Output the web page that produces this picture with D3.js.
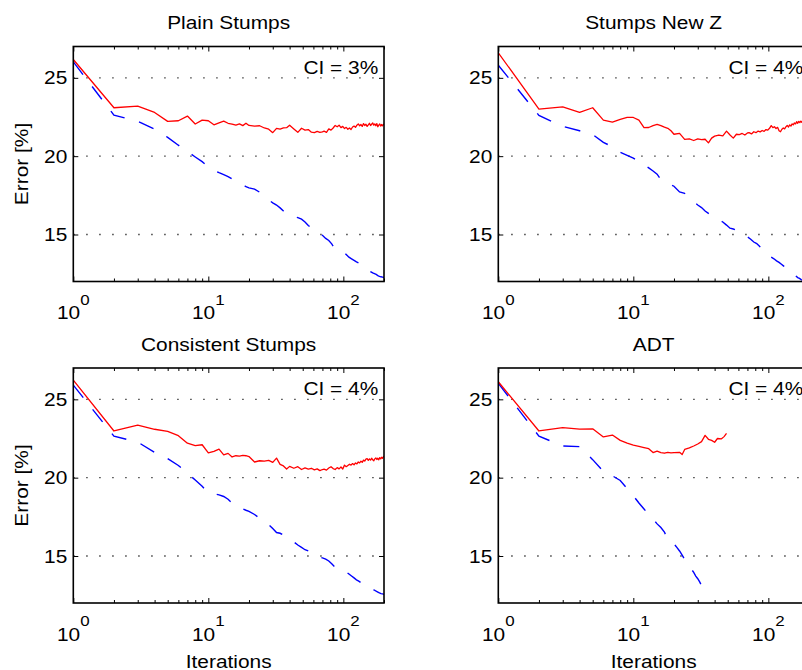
<!DOCTYPE html>
<html>
<head>
<meta charset="utf-8">
<script src="https://cdn.jsdelivr.net/npm/d3@7"></script>
<style>
  html, body { margin: 0; padding: 0; background: #fff; }
  svg { display: block; }
</style>
</head>
<body>
<svg id="chart" width="802" height="670"></svg>
<script>
// ---- data -------------------------------------------------------------
const panelTitles = ["Plain Stumps", "Stumps New Z", "Consistent Stumps", "ADT"];
const ciLabels = ["CI = 3%", "CI = 4%", "CI = 4%", "CI = 4%"];
const yTicks = [15, 20, 25];
const xTickExponents = [0, 1, 2];

// iterations at which the training error was recorded
const iterations = [
  1, 2, 3, 4, 5, 6, 7, 8, 9, 10,
  11, 12, 13, 14, 15, 16, 17, 18, 19, 20,
  22, 24, 26, 28, 30, 32, 34, 36, 38, 40,
  43, 46, 49, 52, 55, 58, 61, 64, 67, 70,
  74, 78, 82, 86, 90, 95, 100, 105, 110, 115,
  120, 125, 130, 135, 140, 145, 150, 155, 160, 165,
  170, 175, 180, 185, 190, 195, 200
];

// iterations at which the test error was recorded
const testIterations = [
  1, 2, 3, 4, 5, 6, 7, 8, 9, 10,
  11, 12, 13, 14, 15, 16, 17, 18, 19, 20,
  22, 24, 26, 28, 30, 32, 34, 36, 38, 40,
  43, 46, 49, 52, 55, 58, 61, 64, 67, 70,
  72, 75, 78, 81, 84, 87, 90, 93, 96, 99,
  102, 105, 108, 111, 114, 117, 120, 123, 126, 129,
  132, 135, 138, 141, 144, 147, 150, 153, 156, 159,
  162, 165, 168, 171, 174, 177, 180, 183, 186, 189,
  192, 195, 198, 200
];

const plainTest = [
  26.17, 23.09, 23.19, 22.79, 22.22, 22.26, 22.56, 22.05, 22.30, 22.26,
  22.00, 22.13, 22.24, 22.10, 22.05, 21.98, 22.06, 21.95, 22.10, 21.96,
  21.92, 21.94, 21.80, 21.72, 21.50, 21.77, 21.72, 21.80, 21.82, 21.98,
  21.74, 21.52, 21.78, 21.66, 21.70, 21.53, 21.50, 21.58, 21.52, 21.55,
  21.60, 21.52, 21.74, 21.66, 21.80, 21.96, 21.88, 21.98, 21.82, 21.90,
  21.76, 21.84, 21.72, 21.80, 21.70, 21.86, 21.92, 21.84, 21.98, 22.06,
  21.94, 22.02, 21.90, 22.08, 21.96, 22.04, 21.90, 22.00, 22.10, 21.96,
  22.04, 22.12, 21.98, 22.06, 21.94, 22.08, 21.88, 21.98, 22.06, 21.92,
  22.02, 21.94, 22.04, 21.98
];
const plainTrain = [
  26.02, 22.62, 22.23, 21.72, 21.20, 20.70, 20.30, 19.95, 19.65, 19.32,
  19.10, 18.95, 18.82, 18.70, 18.55, 18.42, 18.30, 18.18, 18.05, 17.98,
  17.90, 17.70, 17.45, 17.20, 17.02, 16.88, 16.70, 16.50, 16.30, 16.22,
  16.15, 16.08, 15.98, 15.80, 15.58, 15.40, 15.28, 15.12, 15.02, 14.95,
  14.75, 14.62, 14.40, 14.12, 14.05, 13.98, 13.90, 13.72, 13.55, 13.45,
  13.35, 13.25, 13.18, 13.10, 12.95, 12.80, 12.72, 12.68, 12.62, 12.55,
  12.50, 12.45, 12.38, 12.33, 12.30, 12.28, 12.25
];

const newZTest = [
  26.60, 23.00, 23.15, 22.79, 23.09, 22.30, 22.18, 22.35, 22.48, 22.47,
  22.30, 21.82, 21.83, 21.95, 22.03, 21.95, 21.85, 21.78, 21.62, 21.40,
  21.45, 21.07, 21.10, 21.00, 21.10, 21.05, 21.08, 20.85, 21.15, 21.28,
  21.35, 21.30, 21.60, 21.35, 21.15, 21.40, 21.38, 21.45, 21.35, 21.48,
  21.50, 21.42, 21.56, 21.50, 21.60, 21.55, 21.64, 21.58, 21.70, 21.66,
  21.78, 21.95, 21.82, 21.88, 21.76, 21.84, 21.62, 21.56, 21.72, 21.80,
  21.74, 21.88, 21.96, 21.86, 22.00, 21.92, 22.06, 22.00, 22.12, 22.06,
  22.20, 22.10, 22.22, 22.14, 22.24, 22.16, 22.26, 22.18, 22.28, 22.22,
  22.30, 22.24, 22.32, 22.28
];
const newZTrain = [
  25.81, 22.60, 21.90, 21.62, 21.38, 20.88, 20.60, 20.25, 20.05, 19.88,
  19.66, 19.45, 19.25, 19.05, 18.85, 18.50, 18.40, 18.30, 18.18, 18.08,
  17.72, 17.62, 17.40, 17.10, 16.88, 16.72, 16.50, 16.35, 16.20, 16.10,
  15.95, 15.80, 15.60, 15.40, 15.35, 15.28, 15.15, 15.05, 14.95, 14.85,
  14.70, 14.52, 14.42, 14.25, 14.05, 13.90, 13.75, 13.55, 13.45, 13.32,
  13.22, 13.10, 12.98, 12.85, 12.72, 12.62, 12.52, 12.45, 12.35, 12.25,
  12.20, 12.12, 12.08, 12.05, 12.02, 12.00, 11.98
];

const consistentTest = [
  26.23, 22.98, 23.36, 23.09, 22.95, 22.68, 22.20, 22.05, 22.10, 21.58,
  21.68, 21.82, 21.45, 21.55, 21.32, 21.40, 21.38, 21.42, 21.40, 21.35,
  21.00, 21.08, 21.05, 21.10, 20.98, 21.25, 20.85, 20.75, 20.55, 20.72,
  20.60, 20.70, 20.52, 20.62, 20.55, 20.60, 20.50, 20.56, 20.45, 20.52,
  20.55, 20.48, 20.62, 20.70, 20.58, 20.52, 20.64, 20.56, 20.68, 20.55,
  20.80, 20.70, 20.78, 20.86, 20.80, 20.90, 20.82, 20.94, 20.88, 21.00,
  20.94, 21.05, 20.98, 21.12, 21.06, 21.18, 21.22, 21.10, 21.20, 21.12,
  21.24, 21.14, 21.08, 21.20, 21.26, 21.16, 21.24, 21.14, 21.28, 21.20,
  21.30, 21.24, 21.32, 21.38
];
const consistentTrain = [
  25.91, 22.65, 22.27, 21.62, 21.22, 20.78, 20.28, 19.85, 19.45, 19.02,
  18.98, 18.90, 18.80, 18.62, 18.38, 18.18, 18.10, 18.00, 17.92, 17.85,
  17.65, 17.40, 17.20, 17.00, 16.75, 16.50, 16.45, 16.33, 16.25, 16.10,
  15.90, 15.70, 15.55, 15.40, 15.32, 15.15, 15.05, 14.95, 14.92, 14.88,
  14.80, 14.68, 14.50, 14.32, 14.18, 14.14, 14.05, 13.98, 13.85, 13.72,
  13.60, 13.48, 13.40, 13.30, 13.22, 13.16, 13.10, 13.00, 12.92, 12.85,
  12.82, 12.75, 12.70, 12.64, 12.60, 12.58, 12.55
];

const adtTestIterations = [
  1, 2, 3, 4, 5, 6, 7, 8, 9, 10,
  11, 12, 13, 14, 15, 16, 17, 18, 19, 20,
  22, 23, 24, 26, 28, 30, 32, 34, 36, 38,
  40, 42, 45, 47, 49
];
const adtTest = [
  26.12, 22.98, 23.19, 23.10, 23.12, 22.60, 22.72, 22.38, 22.20, 22.08,
  22.00, 21.92, 21.85, 21.60, 21.70, 21.60, 21.56, 21.62, 21.58, 21.60,
  21.62, 21.48, 21.80, 21.90, 22.02, 22.15, 22.30, 22.70, 22.45, 22.38,
  22.26, 22.50, 22.48, 22.62, 22.83
];
const adtTrainIterations = [
  1, 2, 3, 4, 5, 6, 7, 8, 9, 10,
  11, 12, 13, 14, 15, 16, 17, 18, 19, 20,
  21, 22, 23, 24, 25, 26, 27, 28, 29, 30,
  31, 32, 33
];
const adtTrain = [
  26.02, 22.65, 22.02, 21.98, 21.15, 20.40, 20.12, 19.82, 19.30, 18.85,
  18.38, 18.00, 17.65, 17.35, 17.05, 16.82, 16.52, 16.05, 15.95, 15.78,
  15.55, 15.32, 15.05, 14.78, 14.52, 14.35, 14.15, 13.95, 13.72, 13.55,
  13.35, 13.12, 12.94
];

// ---- layout -----------------------------------------------------------
const W = 310.7, H = 235;
const colLeft = [73.3, 498.3];
const rowTop = [46.5, 368];
const FONT = "'Liberation Sans', Arial, Helvetica, sans-serif";
const FS = 18.5;       // main text size
const SX = 1.13;       // horizontal glyph widening of the Helvetica-style face

const panels = [
  { title: panelTitles[0], ci: ciLabels[0], col: 0, row: 0,
    train: d3.zip(iterations, plainTrain), test: d3.zip(testIterations, plainTest) },
  { title: panelTitles[1], ci: ciLabels[1], col: 1, row: 0,
    train: d3.zip(iterations, newZTrain), test: d3.zip(testIterations, newZTest) },
  { title: panelTitles[2], ci: ciLabels[2], col: 0, row: 1,
    train: d3.zip(iterations, consistentTrain), test: d3.zip(testIterations, consistentTest) },
  { title: panelTitles[3], ci: ciLabels[3], col: 1, row: 1,
    train: d3.zip(adtTrainIterations, adtTrain), test: d3.zip(adtTestIterations, adtTest) }
];

const svg = d3.select("#chart")
  .attr("font-family", FONT);

function wideText(parent, x, y, str, anchor = "middle", rotate = 0, size = FS) {
  const g = parent.append("g")
    .attr("transform", `translate(${x},${y}) rotate(${rotate}) scale(${SX},1)`);
  const t = g.append("text")
    .attr("text-anchor", anchor)
    .attr("font-size", size)
    .attr("fill", "#000");
  if (str !== null) t.text(str);
  return t;
}

const x = d3.scaleLog().domain([1, 200]).range([0, W]);
const y = d3.scaleLinear().domain([12, 27]).range([H, 0]);

const majorX = xTickExponents.map(e => Math.pow(10, e));
const minorX = [2, 3, 4, 5, 6, 7, 8, 9, 20, 30, 40, 50, 60, 70, 80, 90, 200];

const line = d3.line().x(d => x(d[0])).y(d => y(d[1]));

panels.forEach((p, i) => {
  const g = svg.append("g")
    .attr("transform", `translate(${colLeft[p.col]},${rowTop[p.row]})`);

  const clipId = `clip-${i}`;
  g.append("clipPath").attr("id", clipId)
    .append("rect").attr("x", 0).attr("y", 0).attr("width", W).attr("height", H);

  // dotted horizontal grid
  g.append("g").selectAll("line").data(yTicks).join("line")
    .attr("x1", 0).attr("x2", W)
    .attr("y1", d => y(d)).attr("y2", d => y(d))
    .attr("stroke", "#222")
    .attr("stroke-width", 1.3)
    .attr("stroke-dasharray", "1.3 11.7");

  const plot = g.append("g").attr("clip-path", `url(#${clipId})`);

  // training error: blue dashed
  plot.append("path")
    .datum(p.train)
    .attr("d", line)
    .attr("fill", "none")
    .attr("stroke", "#0000ff")
    .attr("stroke-width", 1.4)
    .attr("stroke-dasharray", "16 15");

  // test error: red solid
  plot.append("path")
    .datum(p.test)
    .attr("d", line)
    .attr("fill", "none")
    .attr("stroke", "#ff0000")
    .attr("stroke-width", 1.3)
    .attr("stroke-linejoin", "round");

  // inward ticks on all four sides
  const strip = sel => { sel.select(".domain").remove(); sel.selectAll("text").remove();
                         sel.selectAll("line").attr("stroke", "#000"); };
  g.append("g").attr("transform", `translate(0,${H})`)
    .call(d3.axisBottom(x).tickValues(minorX).tickSize(-3).tickFormat("")).call(strip);
  g.append("g").attr("transform", `translate(0,${H})`)
    .call(d3.axisBottom(x).tickValues(majorX).tickSize(-5).tickFormat("")).call(strip);
  g.append("g")
    .call(d3.axisTop(x).tickValues(minorX).tickSize(-3).tickFormat("")).call(strip);
  g.append("g")
    .call(d3.axisTop(x).tickValues(majorX).tickSize(-5).tickFormat("")).call(strip);
  g.append("g")
    .call(d3.axisLeft(y).tickValues(yTicks).tickSize(-5).tickFormat("")).call(strip);
  g.append("g").attr("transform", `translate(${W},0)`)
    .call(d3.axisRight(y).tickValues(yTicks).tickSize(-5).tickFormat("")).call(strip);

  // axes frame
  g.append("rect")
    .attr("x", 0).attr("y", 0).attr("width", W).attr("height", H)
    .attr("fill", "none").attr("stroke", "#000").attr("stroke-width", 1.6);

  // y tick labels
  yTicks.forEach(v => {
    wideText(g, -6, y(v), String(v), "end").attr("dy", "0.36em");
  });

  // x tick labels as powers of ten
  xTickExponents.forEach(e => {
    const t = wideText(g, x(Math.pow(10, e)), H + 37.5, null, "middle");
    t.append("tspan").text("10");
    t.append("tspan").attr("dy", -14.5).attr("font-size", 15).text(String(e));
  });

  // title and CI annotation
  wideText(g, W / 2, -17.3, p.title, "middle");
  wideText(g, W - 5.7, 27.3, p.ci, "end");

  if (p.col === 0) {
    wideText(g, -45, H / 2, "Error [%]", "middle", -90);
  }
  if (p.row === 1) {
    wideText(g, W / 2, H + 64.5, "Iterations", "middle");
  }
});
</script>
</body>
</html>
